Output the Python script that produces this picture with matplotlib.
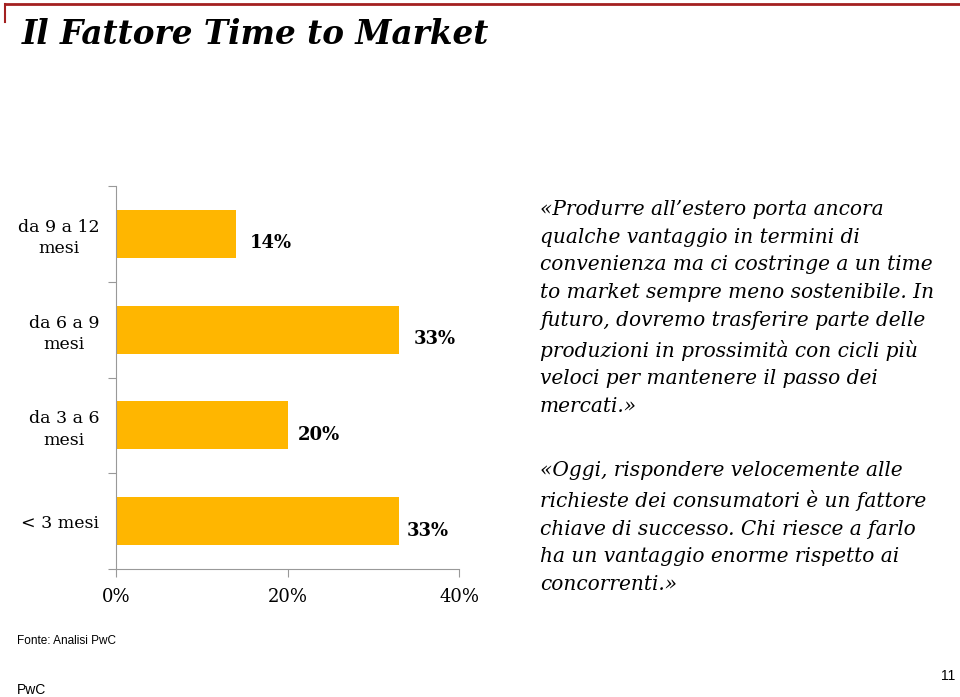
import matplotlib.pyplot as plt
import numpy as np

# data
categories = ['da 9 a 12\nmesi', 'da 6 a 9\nmesi', 'da 3 a 6\nmesi', '< 3 mesi']
values = [14, 33, 20, 33]
value_labels = ['14%', '33%', '20%', '33%']
xticks = [0, 20, 40]
xtick_labels = ['0%', '20%', '40%']

title = 'Il Fattore Time to Market'
quote1 = ("«Produrre all’estero porta ancora\nqualche vantaggio in termini di\n"
          "convenienza ma ci costringe a un time\nto market sempre meno sostenibile. In\n"
          "futuro, dovremo trasferire parte delle\nproduzioni in prossimità con cicli più\n"
          "veloci per mantenere il passo dei\nmercati.»")
quote2 = ("«Oggi, rispondere velocemente alle\nrichieste dei consumatori è un fattore\n"
          "chiave di successo. Chi riesce a farlo\nha un vantaggio enorme rispetto ai\n"
          "concorrenti.»")

W, H = 960, 697
fig = plt.figure(figsize=(W / 100, H / 100), dpi=100)
serif = 'DejaVu Serif'
sans = 'Liberation Sans'

# frame line at top
fig.add_artist(plt.Line2D([5 / W, 1], [1 - 4 / H, 1 - 4 / H], color='#a32020', lw=2))
fig.add_artist(plt.Line2D([5 / W, 5 / W], [1 - 4 / H, 1 - 22 / H], color='#a32020', lw=1.5))

fig.text(22 / W, 1 - 35 / H, title, fontsize=23.5, fontweight='bold', style='italic',
         family=serif, va='center', ha='left')

# chart
ax = fig.add_axes([116 / W, (H - 569) / H, 343 / W, (569 - 186) / H])
pos = np.arange(len(categories))
ax.barh(pos, values, height=0.5, color='#FFB600', edgecolor='none')
ax.set_xlim(0, 40)
ax.set_ylim(3.5, -0.5)
offsets = [14, 15, 10, 8]
for p, v, lab, off in zip(pos, values, value_labels, offsets):
    ax.annotate(lab, (v, p + 0.1), xytext=(off, 0), textcoords='offset pixels',
                ha='left', va='center', fontsize=13, fontweight='bold', family=serif)

ax.set_xticks(xticks)
ax.set_xticklabels(xtick_labels, family=serif, fontsize=13)
ax.set_yticks(np.arange(-0.5, 4, 1))
ax.set_yticklabels([])
ax.set_yticks(pos, minor=True)
ax.set_yticklabels(categories, minor=True, family=serif, fontsize=12.5,
                   multialignment='center', linespacing=1.35)
ax.tick_params(axis='y', which='minor', length=0, pad=12)
ax.tick_params(axis='y', which='major', length=6, color='#999999')
ax.tick_params(axis='x', length=6, color='#999999', pad=8)
for s in ['top', 'right']:
    ax.spines[s].set_visible(False)
for s in ['left', 'bottom']:
    ax.spines[s].set_color('#999999')

# quotes
fig.text(540 / W, 1 - 200 / H, quote1, fontsize=14.5, style='italic', family=serif,
         va='top', ha='left', linespacing=1.58)
fig.text(540 / W, 1 - 461 / H, quote2, fontsize=14.5, style='italic', family=serif,
         va='top', ha='left', linespacing=1.58)

# footer
fig.text(17 / W, 1 - 641 / H, 'Fonte: Analisi PwC', fontsize=8.5, family=sans, va='center')
fig.text(17 / W, 1 - 690 / H, 'PwC', fontsize=10, family=sans, va='center')
fig.text(955 / W, 1 - 676 / H, '11', fontsize=10, family=sans, va='center', ha='right')

fig.savefig('out.png', dpi=100)
